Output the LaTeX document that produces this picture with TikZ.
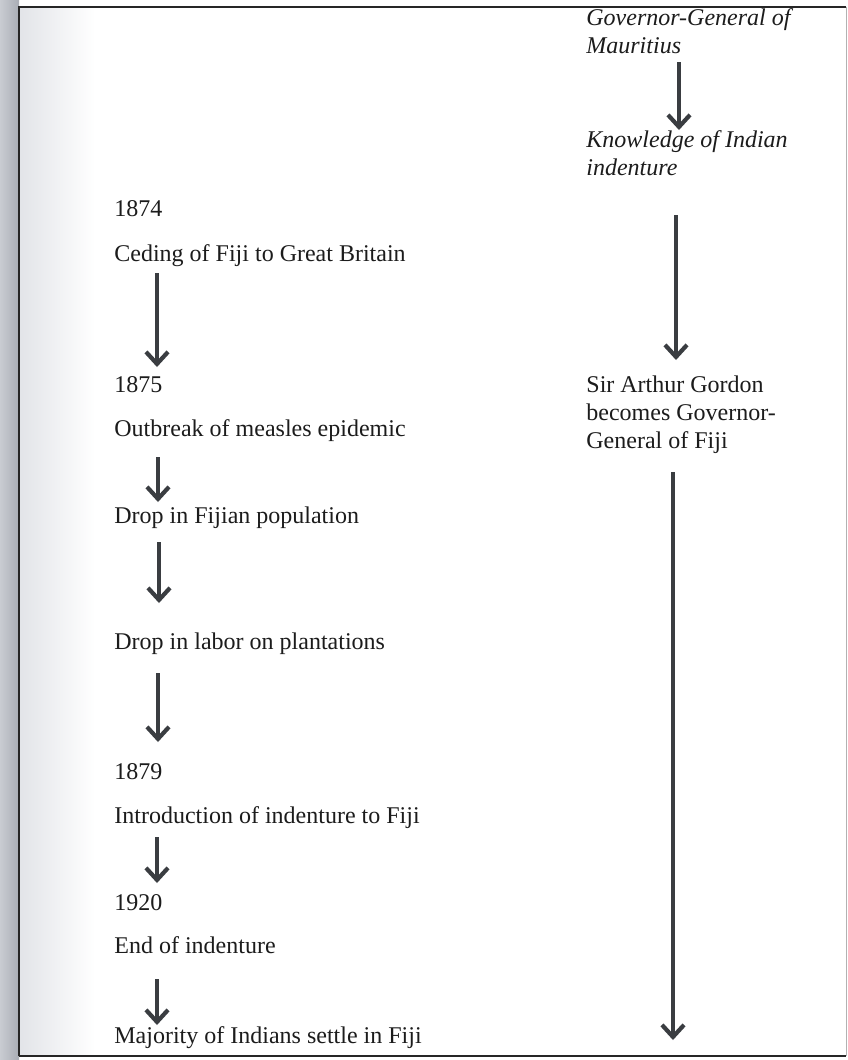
\documentclass[tikz,border=0pt]{standalone}
\usepackage{fontspec}
\setmainfont{Liberation Serif}
\usetikzlibrary{arrows.meta}
\definecolor{ink}{HTML}{1C1C1C}
\definecolor{arrowgray}{HTML}{3A3D41}
\definecolor{frameg}{HTML}{262626}
\definecolor{scanA}{HTML}{C9CCD2}
\definecolor{scanB}{HTML}{A9ADB5}
\definecolor{scanC}{HTML}{E2E4E8}
\begin{document}
\begin{tikzpicture}[x=0.5pt,y=-0.5pt,
  lbl/.style={anchor=base west,inner sep=0pt,text=ink,font=\fontsize{12}{14}\selectfont},
  rlbl/.style={lbl,align=left},
  ilbl/.style={rlbl,font=\fontsize{12}{14}\selectfont\itshape},
  flow/.style={draw=arrowgray,line width=2.1pt,-{Straight Barb[length=6pt,width=11pt]}}]
\useasboundingbox (0,0) rectangle (847,1060);
\fill[white] (0,0) rectangle (847,1060);
% scan shading at the left edge
\shade[left color=scanA,right color=scanB] (0,0) rectangle (19,1060);
\shade[left color=scanC,right color=white] (19,7) rectangle (95,1056);
% frame
\draw[frameg,line width=1.2pt] (19,1056) -- (19,7) -- (846,7);
\draw[frameg,line width=1.2pt] (19,1056) -- (846,1056);
\draw[gray!60,line width=0.5pt] (846,7) -- (846,1056);

% left column
\node[lbl] (y1874) at (114,216) {1874};
\node[lbl] (ceding) at (114,261) {Ceding of Fiji to Great Britain};
\node[lbl] (y1875) at (114,392) {1875};
\node[lbl] (measles) at (114,436) {Outbreak of measles epidemic};
\node[lbl] (pop) at (114,523) {Drop in Fijian population};
\node[lbl] (labor) at (114,649) {Drop in labor on plantations};
\node[lbl] (y1879) at (114,779) {1879};
\node[lbl] (intro) at (114,823) {Introduction of indenture to Fiji};
\node[lbl] (y1920) at (114,910) {1920};
\node[lbl] (endind) at (114,953) {End of indenture};
\node[lbl] (settle) at (114,1043) {Majority of Indians settle in Fiji};

% right column (base anchor = baseline of the last line)
\node[ilbl] (mauritius) at (586,54) {Governor-General of\\Mauritius};
\node[ilbl] (knowledge) at (586,175) {Knowledge of Indian\\indenture};
\node[rlbl] (gordon) at (586,448) {Sir Arthur Gordon\\becomes Governor-\\General of Fiji};

% arrow end points
\coordinate (l1a) at (157,273); \coordinate (l1b) at (157,367);
\coordinate (l2a) at (158,457); \coordinate (l2b) at (158,502);
\coordinate (l3a) at (159,542); \coordinate (l3b) at (159,603);
\coordinate (l4a) at (158,673); \coordinate (l4b) at (158,742);
\coordinate (l5a) at (157,837); \coordinate (l5b) at (157,883);
\coordinate (l6a) at (157,979); \coordinate (l6b) at (157,1025);
\coordinate (r1a) at (679,62);  \coordinate (r1b) at (679,130);
\coordinate (r2a) at (676,215); \coordinate (r2b) at (676,360);
\coordinate (r3a) at (673,472); \coordinate (r3b) at (673,1040);

\draw[flow] (l1a) -- (l1b);
\draw[flow] (l2a) -- (l2b);
\draw[flow] (l3a) -- (l3b);
\draw[flow] (l4a) -- (l4b);
\draw[flow] (l5a) -- (l5b);
\draw[flow] (l6a) -- (l6b);
\draw[flow] (r1a) -- (r1b);
\draw[flow] (r2a) -- (r2b);
\draw[flow] (r3a) -- (r3b);
\end{tikzpicture}
\end{document}
